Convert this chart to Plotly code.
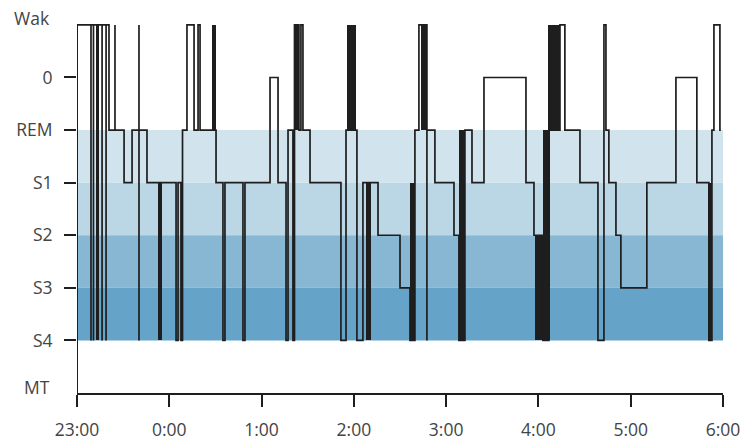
import plotly.graph_objects as go

# Stage codes: Wak=7, 0=6, REM=5, S1=4, S2=3, S3=2, S4=1, MT=0
stage_labels = ["MT", "S4", "S3", "S2", "S1", "REM", "0", "Wak"]
hour_labels = ["23:00", "0:00", "1:00", "2:00", "3:00", "4:00", "5:00", "6:00"]
hour_ticks_min = [0, 60, 120, 180, 240, 300, 360, 420]

# Main hypnogram (minutes after 23:00, stage) – step line
t_min = [0, 0, 9.1, 9.1, 10.7, 10.7, 16.3, 16.3, 18.9, 18.9, 20.8,
         24.7, 24.7, 30.6, 35.8, 40.3, 40.3, 40.3, 45.5,
         64.4, 65.7, 67.6, 68.6, 71.5, 76.1, 78.7, 80.0, 90.4,
         94.9, 96.2, 107.9, 109.2, 125.5, 130.7, 135.9, 137.2,
         140.4, 141.4, 144.3, 145.6, 146.9, 151.5, 171.6, 174.9,
         182.0, 185.9, 195.7, 210.0, 216.5, 219.7, 222.3, 227.5, 227.5,
         232.7, 245.1, 248.3, 252.2, 256.8, 264.6, 291.9, 297.1,
         302.9, 306.8, 314.0, 317.2, 327.0, 338.7, 342.6, 343.9, 345.8,
         350.4, 353.6, 370.5, 389.4, 403.0, 410.8, 412.8, 414.1, 418.0, 418.6]
stage = [1, 7, 1, 7, 1, 7, 1, 7, 1, 7, 5,
         7, 5, 4, 5, 7, 1, 5, 4,
         1, 4, 1, 5, 7, 5, 7, 5, 4,
         1, 4, 1, 4, 6, 4, 1, 5,
         1, 7, 5, 7, 5, 4, 1, 5,
         1, 4, 3, 2, 1, 5, 7, 1, 5,
         4, 3, 1, 5, 4, 6, 4, 3,
         1, 5, 7, 5, 4, 1, 7, 5, 4,
         3, 2, 4, 6, 4, 1, 5, 7, 5, 5]

# Epochs of rapid alternation (drawn as solid blocks)
burst_start = [12.4, 52.7, 87.8, 141.7, 175.5, 187.9, 216.5, 223.6, 248.3, 297.7, 302.9, 306.2, 410.8]
burst_end   = [14.3, 55.3, 90.4, 144.3, 181.4, 191.1, 219.7, 227.5, 252.2, 302.9, 307.5, 314.0, 412.8]
burst_low   = [1, 1, 5, 5, 5, 1, 1, 5, 1, 1, 1, 5, 1]
burst_high  = [7, 4, 7, 7, 7, 4, 4, 7, 5, 3, 5, 7, 4]

# Shaded sleep-stage bands (lower level, upper level)
band_low = [4, 3, 2, 1]
band_high = [5, 4, 3, 2]
band_colors = ["#d1e4ee", "#bbd7e5", "#87b7d3", "#66a3c8"]

INK = "#1e1e1e"
TXT = "#444444"
FONT = "Open Sans"
FS = 17.5

fig = go.Figure()

fig.add_trace(go.Bar(
    x=[(a + b) / 2 for a, b in zip(burst_start, burst_end)],
    width=[b - a for a, b in zip(burst_start, burst_end)],
    base=burst_low,
    y=[h - l for h, l in zip(burst_high, burst_low)],
    marker=dict(color=INK, line=dict(width=0)),
    hoverinfo="skip", showlegend=False,
))

fig.add_trace(go.Scatter(
    x=t_min, y=stage, mode="lines",
    line=dict(shape="hv", color=INK, width=1.7),
    showlegend=False, hoverinfo="skip",
))

for lo, hi, c in zip(band_low, band_high, band_colors):
    fig.add_shape(type="rect", xref="x", yref="y", x0=0, x1=420, y0=lo, y1=hi,
                  fillcolor=c, line=dict(width=0), layer="below")

# y-axis line (below the data)
fig.add_shape(type="line", xref="x", yref="y", x0=0, x1=0, y0=0, y1=7,
              line=dict(color=INK, width=2))

fig.update_layout(
    width=745, height=440,
    margin=dict(l=77, r=22, t=17, b=47, autoexpand=False),
    plot_bgcolor="white", paper_bgcolor="white",
    barmode="overlay", bargap=0,
    font=dict(family=FONT, size=FS, color=TXT),
    xaxis=dict(
        range=[0, 420], tickvals=hour_ticks_min, ticktext=hour_labels,
        showline=True, linecolor=INK, linewidth=2,
        ticks="outside", ticklen=12, tickwidth=2, tickcolor=INK,
        showgrid=False, zeroline=False, ticklabelstandoff=8, automargin=False,
        tickfont=dict(family=FONT, size=FS, color=TXT),
    ),
    yaxis=dict(
        range=[0, 7.15], tickvals=[1, 2, 3, 4, 5, 6],
        ticktext=stage_labels[1:7],
        showline=False, ticks="outside", ticklen=12, tickwidth=2, tickcolor=INK,
        showgrid=False, zeroline=False, ticklabelstandoff=8, automargin=False,
        tickfont=dict(family=FONT, size=FS, color=TXT),
    ),
)

fig.add_annotation(text=stage_labels[7], xref="paper", x=0, yref="y", y=7,
                   xanchor="right", yanchor="middle", xshift=-25, yshift=7,
                   showarrow=False, font=dict(family=FONT, size=FS, color=TXT))
fig.add_annotation(text=stage_labels[0], xref="paper", x=0, yref="y", y=0,
                   xanchor="right", yanchor="middle", xshift=-25, yshift=6,
                   showarrow=False, font=dict(family=FONT, size=FS, color=TXT))

fig.write_html("out.html")
